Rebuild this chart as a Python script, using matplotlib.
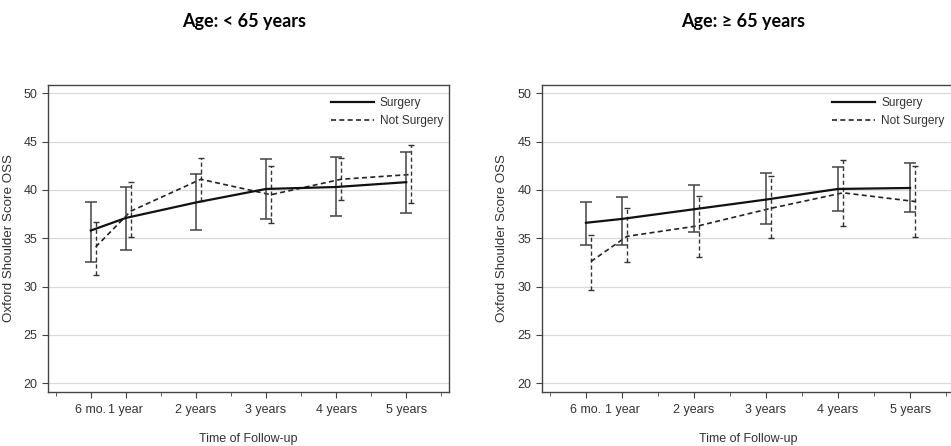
import numpy as np
import matplotlib
matplotlib.use("Agg")
import matplotlib.pyplot as plt
from matplotlib.ticker import MultipleLocator, FixedLocator

# time of follow-up in years
times = [0.5, 1, 2, 3, 4, 5]
time_labels = ["6 mo.", "1 year", "2 years", "3 years", "4 years", "5 years"]

# Age < 65
young_surg_mean = [35.8, 37.1, 38.7, 40.1, 40.3, 40.8]
young_surg_lo = [32.5, 33.8, 35.9, 37.0, 37.3, 37.6]
young_surg_hi = [38.7, 40.3, 41.6, 43.2, 43.4, 43.9]
young_not_mean = [34.1, 37.8, 41.1, 39.5, 41.1, 41.6]
young_not_lo = [31.2, 35.1, 38.9, 36.6, 39.0, 38.6]
young_not_hi = [36.7, 40.8, 43.3, 42.5, 43.3, 44.6]

# Age >= 65
old_surg_mean = [36.6, 37.0, 38.0, 39.0, 40.1, 40.2]
old_surg_lo = [34.3, 34.3, 35.6, 36.5, 37.8, 37.7]
old_surg_hi = [38.7, 39.3, 40.5, 41.7, 42.4, 42.8]
old_not_mean = [32.6, 35.2, 36.3, 38.1, 39.7, 38.8]
old_not_lo = [29.6, 32.5, 33.1, 35.0, 36.3, 35.1]
old_not_hi = [35.3, 38.1, 39.4, 41.4, 43.1, 42.5]

plt.rcParams['font.family'] = ['Liberation Sans', 'DejaVu Sans']

fig = plt.figure(figsize=(9.51, 4.46), dpi=100)
ax1 = fig.add_axes([48/951, 1-392/446, 401/951, 307/446])
ax2 = fig.add_axes([542/951, 1-392/446, 412/951, 307/446])

offset = 0.07
spine_c = "#444444"
text_c = "#333333"


def panel(ax, sm, slo, shi, nm, nlo, nhi):
    sm, slo, shi = np.array(sm), np.array(slo), np.array(shi)
    nm, nlo, nhi = np.array(nm), np.array(nlo), np.array(nhi)
    t = np.array(times)
    ax.errorbar(t, sm, yerr=[sm - slo, shi - sm], color="#111111", lw=1.6,
                ecolor="#444444", elinewidth=1.1, capsize=4, capthick=1.1,
                label="Surgery", zorder=3)
    eb = ax.errorbar(t + offset, nm, yerr=[nm - nlo, nhi - nm], color="#222222",
                     lw=1.2, ls=(0, (3, 2)), ecolor="#333333", elinewidth=1.0,
                     capsize=2, capthick=1.0, label="Not Surgery", zorder=2)
    eb[2][0].set_linestyle((0, (3, 2)))
    ax.set_xlim(-0.11, 5.61)
    ax.set_ylim(19.1, 50.85)
    ax.yaxis.set_major_locator(MultipleLocator(5))
    ax.set_xticks(times)
    ax.set_xticklabels(time_labels)
    ax.xaxis.set_minor_locator(FixedLocator([0, 1.5, 2.5, 3.5, 4.5, 5.5]))
    ax.grid(axis="y", color="#d9d9d9", lw=0.9)
    ax.set_axisbelow(True)
    for s in ax.spines.values():
        s.set_color(spine_c)
        s.set_linewidth(1.0)
    ax.tick_params(axis="both", which="major", direction="out", length=4,
                   color=spine_c, labelsize=9, labelcolor=text_c)
    ax.tick_params(axis="x", which="major", pad=4.5)
    ax.tick_params(axis="x", which="minor", direction="out", length=3,
                   color=spine_c)
    ax.set_ylabel("Oxford Shoulder Score OSS", fontsize=9.6, color=text_c)
    ax.yaxis.set_label_coords(-0.083, 0.5)
    ax.set_xlabel("Time of Follow-up", fontsize=9, color=text_c)
    ax.xaxis.set_label_coords(0.5, -0.133)
    h, l = ax.get_legend_handles_labels()
    h = [x[0] for x in h]
    ax.legend(h, l, loc="upper left", frameon=False, fontsize=8.6,
              handlelength=3.6, handletextpad=0.5,
              bbox_to_anchor=(0.678, 0.995), labelcolor=text_c)


panel(ax1, young_surg_mean, young_surg_lo, young_surg_hi,
      young_not_mean, young_not_lo, young_not_hi)
panel(ax2, old_surg_mean, old_surg_lo, old_surg_hi,
      old_not_mean, old_not_lo, old_not_hi)

fig.text(244/951, 1-22/446, "Age: < 65 years", ha="center", va="center",
         fontsize=13, fontweight="bold", family=["Lato", "DejaVu Sans"])
fig.text(743/951, 1-22/446, "Age: \u2265 65 years", ha="center", va="center",
         fontsize=13, fontweight="bold", family=["Lato", "DejaVu Sans"])

fig.savefig("out.png", dpi=100)
